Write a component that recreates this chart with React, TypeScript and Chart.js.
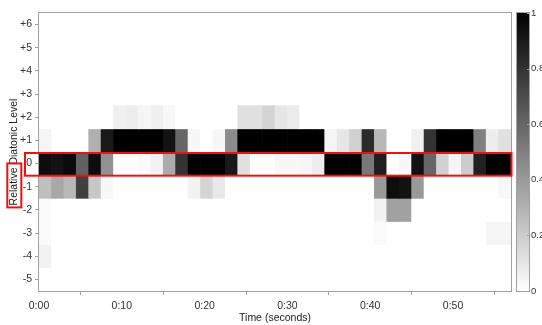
import React, { useEffect, useRef } from 'react';
import { Chart, registerables } from 'chart.js';

Chart.register(...registerables);

// ---- data ----
const columnTimes = [
  0.75, 2.25, 3.75, 5.25, 6.75, 8.25, 9.75, 11.25, 12.75, 14.25,
  15.75, 17.25, 18.75, 20.25, 21.75, 23.25, 24.75, 26.25, 27.75, 29.25,
  30.75, 32.25, 33.75, 35.25, 36.75, 38.25, 39.75, 41.25, 42.75, 44.25,
  45.75, 47.25, 48.75, 50.25, 51.75, 53.25, 54.75, 56.25,
];

const levelPlus2 = [
  0, 0, 0, 0, 0, 0, 0.06, 0.07, 0.04, 0.06,
  0.03, 0, 0, 0, 0, 0, 0.12, 0.12, 0.17, 0.1,
  0.08, 0, 0, 0, 0, 0, 0, 0, 0, 0,
  0, 0, 0, 0, 0, 0, 0, 0,
];
const levelPlus1 = [
  0.04, 0, 0, 0, 0.31, 0.9, 1, 1, 1, 1,
  0.93, 0.6, 0.03, 0, 0.03, 0.45, 1, 1, 1, 1,
  1, 1, 1, 0.04, 0.1, 0.18, 0.83, 0.28, 0, 0,
  0.06, 0.8, 1, 1, 1, 0.5, 0.07, 0.12,
];
const level0 = [
  0.95, 0.93, 0.96, 0.62, 0.95, 0.43, 0, 0, 0.02, 0.05,
  0.33, 0.8, 1, 1, 1, 0.9, 0.12, 0, 0, 0.03,
  0.03, 0.04, 0.07, 1, 1, 1, 0.53, 0.88, 0.01, 0.03,
  0.93, 0.6, 0.18, 0.04, 0.2, 0.87, 1, 1,
];
const levelMinus1 = [
  0.25, 0.34, 0.28, 0.75, 0.22, 0.03, 0, 0, 0, 0,
  0, 0, 0.05, 0.17, 0.09, 0, 0, 0, 0, 0,
  0, 0, 0, 0, 0, 0, 0, 0.4, 0.95, 0.93,
  0.4, 0, 0, 0, 0, 0, 0, 0.03,
];
const levelMinus2 = [
  0.02, 0, 0, 0, 0, 0, 0, 0, 0, 0,
  0, 0, 0, 0, 0, 0, 0, 0, 0, 0,
  0, 0, 0, 0, 0, 0, 0, 0.05, 0.37, 0.37,
  0, 0, 0, 0, 0, 0, 0, 0,
];
const levelMinus3 = [
  0.02, 0, 0, 0, 0, 0, 0, 0, 0, 0,
  0, 0, 0, 0, 0, 0, 0, 0, 0, 0,
  0, 0, 0, 0, 0, 0, 0, 0.02, 0, 0,
  0, 0, 0, 0, 0, 0, 0.04, 0.04,
];
const levelMinus4 = [
  0.05, 0, 0, 0, 0, 0, 0, 0, 0, 0,
  0, 0, 0, 0, 0, 0, 0, 0, 0, 0,
  0, 0, 0, 0, 0, 0, 0, 0, 0, 0,
  0, 0, 0, 0, 0, 0, 0, 0,
];

const rowLevels = [2, 1, 0, -1, -2, -3, -4];
const rowValues = [levelPlus2, levelPlus1, level0, levelMinus1, levelMinus2, levelMinus3, levelMinus4];

const yTicks = [-5, -4, -3, -2, -1, 0, 1, 2, 3, 4, 5, 6];
const yTickLabels = ['-5', '-4', '-3', '-2', '-1', '0', '+1', '+2', '+3', '+4', '+5', '+6'];
const xTicks = [0, 10, 20, 30, 40, 50];
const xTickLabels = ['0:00', '0:10', '0:20', '0:30', '0:40', '0:50'];
const colorbarTicks = [0, 0.2, 0.4, 0.6, 0.8, 1];
const colorbarTickLabels = ['0', '0.2', '0.4', '0.6', '0.8', '1'];

const highlightLevel = 0;
const yTitle = 'Relative Diatonic Level';
const yTitleHighlightWord = 'Relative';
const xTitle = 'Time (seconds)';

// ---- styling ----
const FONT = "'Liberation Sans', Arial, Helvetica, sans-serif";
const AXIS_GRAY = '#a0a0a0';
const TEXT = '#333333';
const RED = '#f01010';

const grayFor = (v: number) => {
  const g = Math.round(255 * (1 - v));
  return `rgb(${g},${g},${g})`;
};

const overlayPlugin = {
  id: 'overlay',
  afterDatasetsDraw(chart: any) {
    const { ctx, chartArea, scales } = chart;
    const ys = scales.y;
    const cb = scales.cb;
    ctx.save();

    // plot frame
    ctx.strokeStyle = AXIS_GRAY;
    ctx.lineWidth = 1;
    ctx.strokeRect(
      Math.round(chartArea.left) - 0.5,
      Math.round(chartArea.top) - 0.5,
      Math.round(chartArea.right - chartArea.left) + 1,
      Math.round(chartArea.bottom - chartArea.top) + 1
    );

    // colorbar
    const cbLeft = Math.round(chartArea.right) + 6;
    const cbWidth = 12;
    const cbTop = cb.getPixelForValue(1);
    const cbBottom = cb.getPixelForValue(0);
    const grad = ctx.createLinearGradient(0, cbBottom, 0, cbTop);
    grad.addColorStop(0, grayFor(0));
    grad.addColorStop(1, grayFor(1));
    ctx.fillStyle = grad;
    ctx.fillRect(cbLeft, cbTop, cbWidth, cbBottom - cbTop);
    ctx.strokeStyle = AXIS_GRAY;
    ctx.strokeRect(cbLeft - 0.5, Math.round(cbTop) - 0.5, cbWidth + 1, Math.round(cbBottom - cbTop) + 1);
    ctx.beginPath();
    colorbarTicks.forEach((t) => {
      const py = Math.round(cb.getPixelForValue(t)) + 0.5;
      ctx.moveTo(cbLeft + cbWidth - 2, py);
      ctx.lineTo(cbLeft + cbWidth + 1, py);
    });
    ctx.stroke();

    // red highlight around the 0 row
    ctx.strokeStyle = RED;
    ctx.lineWidth = 2;
    const rTop = ys.getPixelForValue(highlightLevel + 0.5) + 1;
    const rBottom = ys.getPixelForValue(highlightLevel - 0.5) + 0.5;
    const rLeft = chartArea.left - 14;
    ctx.strokeRect(rLeft, rTop, chartArea.right + 0.5 - rLeft, rBottom - rTop);

    // red box around the word "Relative" in the y title
    const tOpts = ys.options.title;
    const fontSize = tOpts.font.size;
    const lineHeight = fontSize * 1.2;
    ctx.font = `${fontSize}px ${FONT}`;
    const fullW = ctx.measureText(yTitle).width;
    const wordW = ctx.measureText(yTitleHighlightWord).width;
    const titleX = ys.left + tOpts.padding.top + lineHeight / 2;
    const titleY = (ys.top + ys.bottom) / 2;
    const start = titleY + fullW / 2;
    const boxBottom = start + 2;
    const boxTop = start - wordW - 4;
    ctx.strokeRect(titleX - 7, boxTop, 14, boxBottom - boxTop);

    ctx.restore();
  },
};

export default function App() {
  const ref = useRef<HTMLCanvasElement>(null);

  useEffect(() => {
    document.body.style.margin = '0';
    const canvas = ref.current!;
    const datasets = rowLevels.map((lvl, r) => ({
      label: `level ${lvl}`,
      data: columnTimes.map((t) => ({ x: t, y: [lvl - 0.5, lvl + 0.5] })),
      backgroundColor: rowValues[r].map(grayFor),
      borderWidth: 0,
      grouped: false,
      barPercentage: 1,
      categoryPercentage: 1,
    }));

    const chart = new Chart(canvas, {
      type: 'bar',
      data: { datasets: datasets as any },
      plugins: [overlayPlugin],
      options: {
        responsive: false,
        animation: false,
        devicePixelRatio: 1,
        layout: { padding: { top: 13, left: 0, right: 0, bottom: 0 } },
        plugins: { legend: { display: false }, tooltip: { enabled: false } },
        scales: {
          x: {
            type: 'linear',
            min: 0,
            max: 57,
            offset: false,
            afterBuildTicks: (s: any) => {
              s.ticks = xTicks.map((v) => ({ value: v }));
            },
            afterFit: (s: any) => {
              s.height = 34;
            },
            ticks: {
              autoSkip: false,
              maxRotation: 0,
              padding: 5,
              color: TEXT,
              font: { family: FONT, size: 10.5 },
              callback: (v: any) => xTickLabels[xTicks.indexOf(Number(v))] ?? '',
            },
            grid: { drawOnChartArea: false, drawTicks: true, tickLength: 4, color: AXIS_GRAY },
            border: { display: false },
            title: {
              display: true,
              text: xTitle,
              color: '#222',
              font: { family: FONT, size: 10.5 },
              padding: { top: 0, bottom: 1 },
            },
          },
          y: {
            type: 'linear',
            position: 'left',
            min: -5.5,
            max: 6.5,
            afterBuildTicks: (s: any) => {
              s.ticks = yTicks.map((v) => ({ value: v }));
            },
            afterFit: (s: any) => {
              s.width = 39;
            },
            ticks: {
              autoSkip: false,
              padding: 3,
              color: TEXT,
              font: { family: FONT, size: 10.5 },
              callback: (v: any) => yTickLabels[yTicks.indexOf(Number(v))] ?? '',
            },
            grid: { drawOnChartArea: false, drawTicks: true, tickLength: 4, color: AXIS_GRAY },
            border: { display: false },
            title: {
              display: true,
              text: yTitle,
              color: '#222',
              font: { family: FONT, size: 10.5 },
              padding: { top: 8, bottom: 0 },
            },
          },
          cb: {
            type: 'linear',
            position: 'right',
            min: 0,
            max: 1,
            afterBuildTicks: (s: any) => {
              s.ticks = colorbarTicks.map((v) => ({ value: v }));
            },
            afterFit: (s: any) => {
              s.width = 31;
            },
            ticks: {
              autoSkip: false,
              padding: 3,
              color: TEXT,
              font: { family: FONT, size: 9.5 },
              callback: (v: any) => colorbarTickLabels[colorbarTicks.indexOf(Number(v))] ?? '',
            },
            grid: { drawOnChartArea: false, drawTicks: true, tickLength: 17, color: 'rgba(0,0,0,0)' },
            border: { display: false },
          },
        },
      } as any,
    });
    return () => chart.destroy();
  }, []);

  return (
    <div style={{ position: 'fixed', left: 0, top: 0, width: 542, height: 325, background: '#fff' }}>
      <canvas ref={ref} width={542} height={325} style={{ width: 542, height: 325, display: 'block' }} />
    </div>
  );
}
